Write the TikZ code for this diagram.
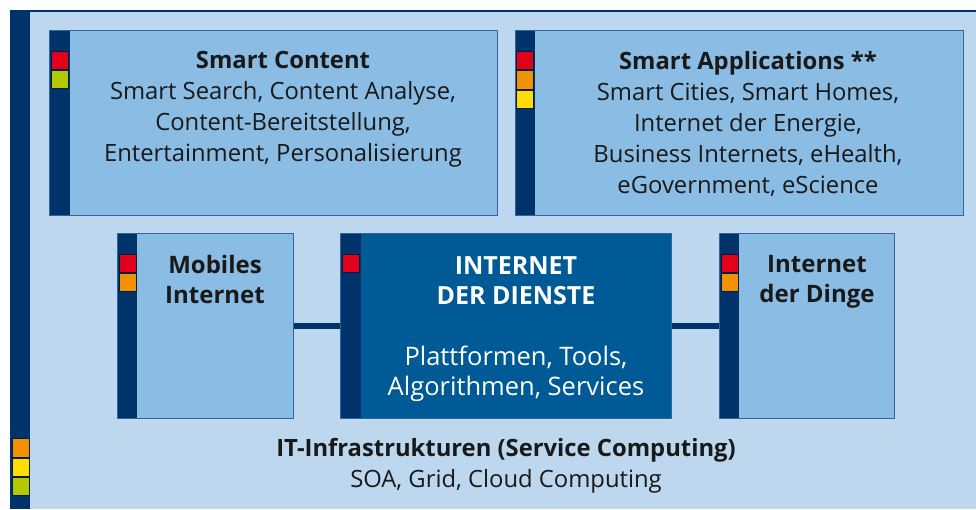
\documentclass[tikz,border=0pt]{standalone}
\usepackage{fontspec}
\setmainfont{Open Sans}
\definecolor{navy}{RGB}{0,51,106}
\definecolor{panel}{RGB}{189,215,238}
\definecolor{boxfill}{RGB}{139,188,227}
\definecolor{midblue}{RGB}{0,90,150}
\definecolor{edge}{RGB}{50,100,160}
\definecolor{ink}{RGB}{25,25,25}
\definecolor{sqred}{RGB}{226,0,26}
\definecolor{sqorange}{RGB}{243,146,0}
\definecolor{sqyellow}{RGB}{255,221,0}
\definecolor{sqgreen}{RGB}{181,200,0}
\tikzset{
  box/.style={draw=edge, line width=1pt, fill=boxfill, anchor=north west, inner sep=0pt},
  darkbox/.style={draw=edge, line width=1pt, fill=midblue, anchor=north west, inner sep=0pt},
  txt/.style={align=center, inner sep=0pt, anchor=north, text=ink, font=\fontsize{23.8}{31}\selectfont},
  link/.style={navy, line width=6pt},
  sq/.style={draw=navy!60!black, line width=0.3pt}
}
\begin{document}
\begin{tikzpicture}[x=1pt,y=-1pt]
\useasboundingbox (0,0) rectangle (976,509);
\fill[white] (0,0) rectangle (976,509);
% outer panel
\fill[panel] (10,10) rectangle (976,509);
\fill[navy] (10,10) rectangle (976,12);
\fill[navy] (10,10) rectangle (30,509);
\fill[sqorange,sq] (12,438) rectangle (29,457);
\fill[sqyellow,sq] (12,458) rectangle (29,476);
\fill[sqgreen,sq] (12,477) rectangle (29,495);

% Smart Content
\node[box, minimum width=448pt, minimum height=185pt] (sc) at (49,30) {};
\fill[navy] (49.5,30.5) rectangle (70,214.5);
\fill[sqred,sq] (51,51) rectangle (68,69);
\fill[sqgreen,sq] (51,70) rectangle (68,88);
\node[txt] (sctext) at (283,51) {\textbf{Smart Content}\\Smart Search, Content Analyse,\\Content-Bereitstellung,\\Entertainment, Personalisierung};

% Smart Applications
\node[box, minimum width=448pt, minimum height=185pt] (sa) at (515,30) {};
\fill[navy] (515.5,30.5) rectangle (535,214.5);
\fill[sqred,sq] (516,51) rectangle (533,69);
\fill[sqorange,sq] (516,70) rectangle (533,89);
\fill[sqyellow,sq] (516,90) rectangle (533,108);
\node[txt] (satext) at (748,51) {\textbf{Smart Applications **}\\Smart Cities, Smart Homes,\\Internet der Energie,\\Business Internets, eHealth,\\eGovernment, eScience};

% Mobiles Internet
\node[box, minimum width=176pt, minimum height=185pt] (mob) at (117,233) {};
\fill[navy] (117.5,233.5) rectangle (137,417.5);
\fill[sqred,sq] (119,254) rectangle (136,272);
\fill[sqorange,sq] (119,273) rectangle (136,291);
\node[txt, font=\bfseries\fontsize{24}{30}\selectfont] (mobtext) at (215,255) {Mobiles\\Internet};

% Internet der Dienste
\node[darkbox, minimum width=331pt, minimum height=185pt] (idd) at (340,233) {};
\fill[navy] (340.5,233.5) rectangle (361,417.5);
\fill[sqred,sq] (342,254) rectangle (359,272);
\node[txt, text=white, font=\bfseries\fontsize{25}{30}\selectfont] (iddtitle) at (516,256) {INTERNET\\DER DIENSTE};
\node[txt, text=white, font=\fontsize{25.5}{30}\selectfont] (iddtext) at (516,346) {Plattformen, Tools,\\Algorithmen, Services};

% Internet der Dinge
\node[box, minimum width=175pt, minimum height=185pt] (ding) at (719,233) {};
\fill[navy] (719.5,233.5) rectangle (739,417.5);
\fill[sqred,sq] (721,254) rectangle (738,272);
\fill[sqorange,sq] (721,273) rectangle (738,291);
\node[txt, font=\bfseries\fontsize{24}{30}\selectfont] (dingtext) at (817,255) {Internet\\der Dinge};

% connectors
\draw[link] (mob.east) -- (idd.west);
\draw[link] (idd.east) -- (ding.west);

% bottom text
\node[txt] (ittext) at (506,438) {\textbf{IT-Infrastrukturen (Service Computing)}\\SOA, Grid, Cloud Computing};
\end{tikzpicture}
\end{document}
